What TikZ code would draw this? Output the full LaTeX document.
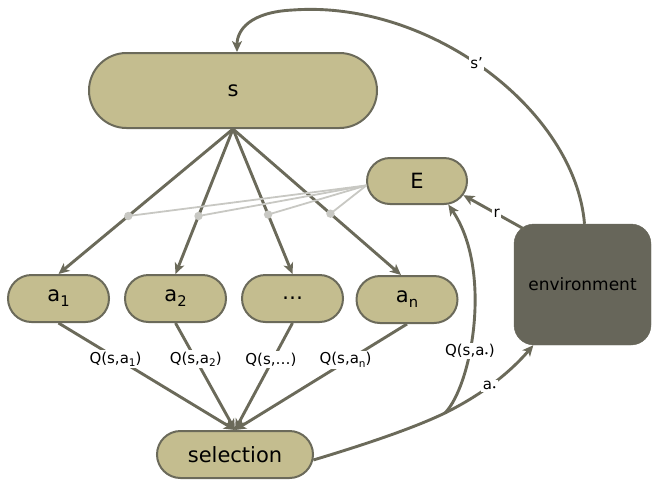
\documentclass[tikz,border=0pt]{standalone}
\usepackage{fontspec}
\setmainfont{DejaVu Sans}
\usepackage{graphicx}
\usetikzlibrary{shapes.misc,arrows.meta,calc}
\definecolor{khaki}{HTML}{C4BD8F}
\definecolor{dark}{HTML}{6B6A5A}
\definecolor{envc}{HTML}{67665A}
\definecolor{light}{HTML}{C8C8C3}
\newcommand\subs[1]{\raisebox{-0.45ex}{\scalebox{0.7}{#1}}}
\newcommand\stardot{\raisebox{-0.1ex}{\scalebox{0.5}{•}}}
\begin{document}
\begin{tikzpicture}[x=1pt,y=-1pt,
  pill/.style={rounded rectangle, draw=dark, line width=2pt, fill=khaki, text=black,
    font=\fontsize{21}{24}\selectfont, inner sep=0pt},
  arr/.style={draw=dark, line width=2.9pt, -{Stealth[length=11pt,width=10pt,inset=3pt]}},
  lbl/.style={fill=white, inner sep=1.5pt, font=\fontsize{15}{17}\selectfont, text=black},
  gl/.style={draw=light, line width=1.8pt}]
\useasboundingbox (0,0) rectangle (652,482);

% nodes
\node[pill, minimum width=288pt, minimum height=75pt] (s) at (233,90.5) {s};
\node[pill, minimum width=100pt, minimum height=46pt] (E) at (417,181) {E};
\node[pill, minimum width=101pt, minimum height=47pt] (a1) at (58.5,298.5) {a\subs{1}};
\node[pill, minimum width=101pt, minimum height=47pt] (a2) at (175.5,298.5) {a\subs{2}};
\node[pill, minimum width=101pt, minimum height=47pt] (a3) at (292.5,298.5) {…};
\node[pill, minimum width=101pt, minimum height=47pt] (an) at (407,299.5) {a\subs{n}};
\node[pill, minimum width=156pt, minimum height=47pt] (sel) at (235,454.5) {selection};
\node[draw=envc, fill=envc, rounded corners=20pt, minimum width=137pt, minimum height=121pt,
  text=black, font=\fontsize{17}{20}\selectfont] (env) at (582.5,284.5) {environment};

% s -> actions
\draw[arr] (s.south) -- (a1.north) coordinate[pos=0.6] (d1);
\draw[arr] (s.south) -- (a2.north) coordinate[pos=0.6] (d2);
\draw[arr] (s.south) -- (a3.north) coordinate[pos=0.59] (d3);
\draw[arr] (s.south) -- ([xshift=-6pt]an.north) coordinate[pos=0.58] (d4);

% E -> estimates (light)
\foreach \d in {d1,d2,d3,d4} {
  \draw[gl] (E.185) -- (\d);
  \fill[light] (\d) circle (4.2pt);
}

% actions -> selection
\draw[arr] (a1.south) -- (sel.north) node[lbl,pos=0.34,xshift=-3pt] {Q(s,a\subs{1})};
\draw[arr] (a2.south) -- (sel.north) node[lbl,pos=0.34] {Q(s,a\subs{2})};
\draw[arr] (a3.south) -- (sel.north) node[lbl,pos=0.34,xshift=-2pt] {Q(s,…)};
\draw[arr] (an.south) -- (sel.north) node[lbl,pos=0.34,xshift=-3pt] {Q(s,a\subs{n})};

% selection -> environment, branch to E
\coordinate (J) at (445,413);
\draw[arr] (sel.-4) .. controls (380,440) and (420,425) .. (J)
  .. controls (475,398) and (505,378) .. (env.231) node[lbl,pos=0.5] {a\stardot};
\draw[arr] (J) .. controls (472,385) and (493,270) .. (E.-37.5)
  node[lbl,pos=0.38] {Q(s,a\stardot)};

% reward
\coordinate (rS) at (524,229);
\draw[arr] (rS) -- (E.-17) node[lbl,pos=0.45] {r};

% next state
\draw[arr] ([xshift=2pt]env.north) .. controls (575,110) and (430,0) .. (293,10)
  node[lbl,pos=0.53] {s'}
  .. controls (250,12) and (237,30) .. ([xshift=4pt]s.north);
\end{tikzpicture}
\end{document}
